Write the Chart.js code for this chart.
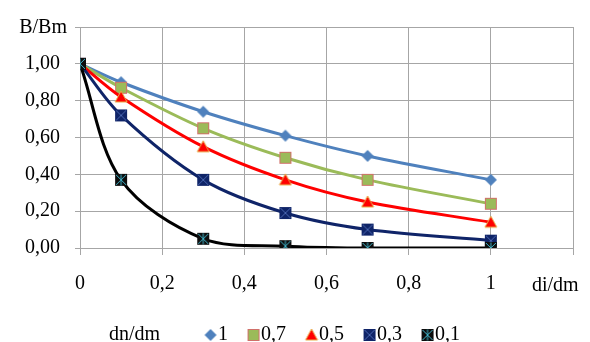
<!DOCTYPE html>
<html>
<head>
<meta charset="utf-8">
<script src="https://cdn.jsdelivr.net/npm/chart.js@4/dist/chart.umd.min.js"></script>
<style>
  html, body { margin: 0; padding: 0; background: #fff; }
  #wrap { width: 590px; height: 342px; position: relative; }
</style>
</head>
<body>
<div id="wrap"><canvas id="chart"></canvas></div>
<script>
// ------------------------------
// DATA
// ------------------------------

const xValues = [0, 0.1, 0.3, 0.5, 0.7, 1];

const seriesLabels = ["1", "0,7", "0,5", "0,3", "0,1"];
const series1 = [1.00, 0.90, 0.74, 0.61, 0.50, 0.37];
const series07 = [1.00, 0.87, 0.65, 0.49, 0.37, 0.24];
const series05 = [1.00, 0.82, 0.55, 0.37, 0.25, 0.14];
const series03 = [1.00, 0.72, 0.37, 0.19, 0.10, 0.04];
const series01 = [1.00, 0.37, 0.05, 0.01, 0.00, 0.00];

const xTickLabels = ["0", "0,2", "0,4", "0,6", "0,8", "1", ""];
const yTickLabels = ["0,00", "0,20", "0,40", "0,60", "0,80", "1,00", ""];

const yAxisTitle = "B/Bm";
const xAxisTitle = "di/dm";
const legendTitle = "dn/dm";

// ------------------------------
// MARKERS
// ------------------------------

const FONT = "'Liberation Serif', 'Times New Roman', serif";
const GRID = "#a6a6a6";

function makeMarker(kind, width, offsetX) {
  const c = document.createElement("canvas");
  c.width = width;
  c.height = 14;
  const g = c.getContext("2d");
  const cx = width / 2 + offsetX;
  const cy = 7;

  if (kind === "diamond") {
    g.fillStyle = "#4f81bd";
    g.beginPath();
    g.moveTo(cx, cy - 6);
    g.lineTo(cx + 6, cy);
    g.lineTo(cx, cy + 6);
    g.lineTo(cx - 6, cy);
    g.closePath();
    g.fill();
  } else if (kind === "square") {
    g.fillStyle = "#9bbb59";
    g.fillRect(cx - 5.5, cy - 5.5, 11, 11);
    g.strokeStyle = "#d0706a";
    g.lineWidth = 1;
    g.strokeRect(cx - 5.5, cy - 5.5, 11, 11);
  } else if (kind === "triangle") {
    g.fillStyle = "#ff0000";
    g.strokeStyle = "#e8b04a";
    g.lineWidth = 1;
    g.beginPath();
    g.moveTo(cx, cy - 6);
    g.lineTo(cx + 6, cy + 5);
    g.lineTo(cx - 6, cy + 5);
    g.closePath();
    g.fill();
    g.stroke();
  } else if (kind === "xsquare") {
    g.fillStyle = "#0f2468";
    g.fillRect(cx - 6, cy - 6, 12, 12);
    g.strokeStyle = "#4a67b0";
    g.lineWidth = 1;
    g.beginPath();
    g.moveTo(cx - 5, cy - 5);
    g.lineTo(cx + 5, cy + 5);
    g.moveTo(cx + 5, cy - 5);
    g.lineTo(cx - 5, cy + 5);
    g.stroke();
  } else if (kind === "star") {
    g.fillStyle = "#0d0d0d";
    g.fillRect(cx - 6, cy - 6, 12, 12);
    g.strokeStyle = "#3fb3c9";
    g.lineWidth = 1;
    g.beginPath();
    g.moveTo(cx - 5, cy - 5);
    g.lineTo(cx + 5, cy + 5);
    g.moveTo(cx + 5, cy - 5);
    g.lineTo(cx - 5, cy + 5);
    g.moveTo(cx, cy - 5.5);
    g.lineTo(cx, cy + 5.5);
    g.stroke();
  }
  return c;
}

const markerKinds = ["diamond", "square", "triangle", "xsquare", "star"];
const lineColors = ["#4f81bd", "#9bbb59", "#ff0000", "#0f2468", "#000000"];
const seriesValues = [series1, series07, series05, series03, series01];

const pointMarkers = markerKinds.map((k) => makeMarker(k, 14, 0));
const legendMarkers = markerKinds.map((k) => makeMarker(k, 20, 3));
const blankMarker = makeMarker("none", 1, 0);

// ------------------------------
// CHART
// ------------------------------

function toPoints(values) {
  return xValues.map((x, i) => ({ x, y: values[i] }));
}

const datasets = seriesValues.map((values, i) => ({
  label: seriesLabels[i],
  data: toPoints(values),
  borderColor: lineColors[i],
  borderWidth: 3,
  tension: 0.33,
  pointStyle: pointMarkers[i],
  pointRadius: 6,
  pointHoverRadius: 6,
  fill: false,
  order: seriesValues.length - i
}));

const axisTextPlugin = {
  id: "axisText",
  afterDraw(chart) {
    const { ctx, chartArea, scales } = chart;
    ctx.save();
    ctx.font = "20px " + FONT;
    ctx.fillStyle = "#000";
    ctx.textBaseline = "middle";

    ctx.textAlign = "right";
    ctx.fillText(yAxisTitle, chartArea.left - 13, scales.y.getPixelForValue(1.2) + 1);

    ctx.textAlign = "left";
    ctx.fillText(xAxisTitle, scales.x.getPixelForValue(1.2) - 41, chartArea.bottom + 38);
    ctx.restore();
  }
};

Chart.defaults.font.family = FONT;
Chart.defaults.font.size = 20;
Chart.defaults.color = "#000";

new Chart(document.getElementById("chart"), {
  type: "line",
  data: { datasets },
  options: {
    responsive: true,
    maintainAspectRatio: false,
    animation: false,
    layout: {
      padding: { top: 25, right: 17, bottom: -13, left: 0 }
    },
    plugins: {
      tooltip: { enabled: false },
      legend: {
        position: "bottom",
        onClick: () => {},
        labels: {
          usePointStyle: true,
          boxWidth: 1,
          padding: 22,
          color: "#000",
          font: { size: 20, family: FONT },
          generateLabels() {
            const items = [{
              text: legendTitle + "     ",
              pointStyle: blankMarker,
              fillStyle: "transparent",
              strokeStyle: "transparent",
              lineWidth: 0,
              hidden: false
            }];
            seriesLabels.forEach((label, i) => {
              items.push({
                text: i === seriesLabels.length - 1 ? label + "   " : label,
                pointStyle: legendMarkers[i],
                fillStyle: lineColors[i],
                strokeStyle: lineColors[i],
                lineWidth: 0,
                hidden: false,
                datasetIndex: i
              });
            });
            return items;
          }
        }
      }
    },
    scales: {
      x: {
        type: "linear",
        min: 0,
        max: 1.2,
        afterFit(scale) { scale.height = 55; },
        ticks: {
          stepSize: 0.2,
          padding: 17,
          maxRotation: 0,
          callback(value, index) { return xTickLabels[index]; }
        },
        grid: { color: GRID, tickLength: 7, lineWidth: 1 },
        border: { color: GRID }
      },
      y: {
        min: 0,
        max: 1.2,
        afterFit(scale) { scale.width = 80; },
        ticks: {
          stepSize: 0.2,
          padding: 15,
          callback(value, index) { return yTickLabels[index]; }
        },
        grid: { color: GRID, tickLength: 5, lineWidth: 1 },
        border: { color: GRID }
      }
    }
  },
  plugins: [axisTextPlugin]
});
</script>
</body>
</html>
